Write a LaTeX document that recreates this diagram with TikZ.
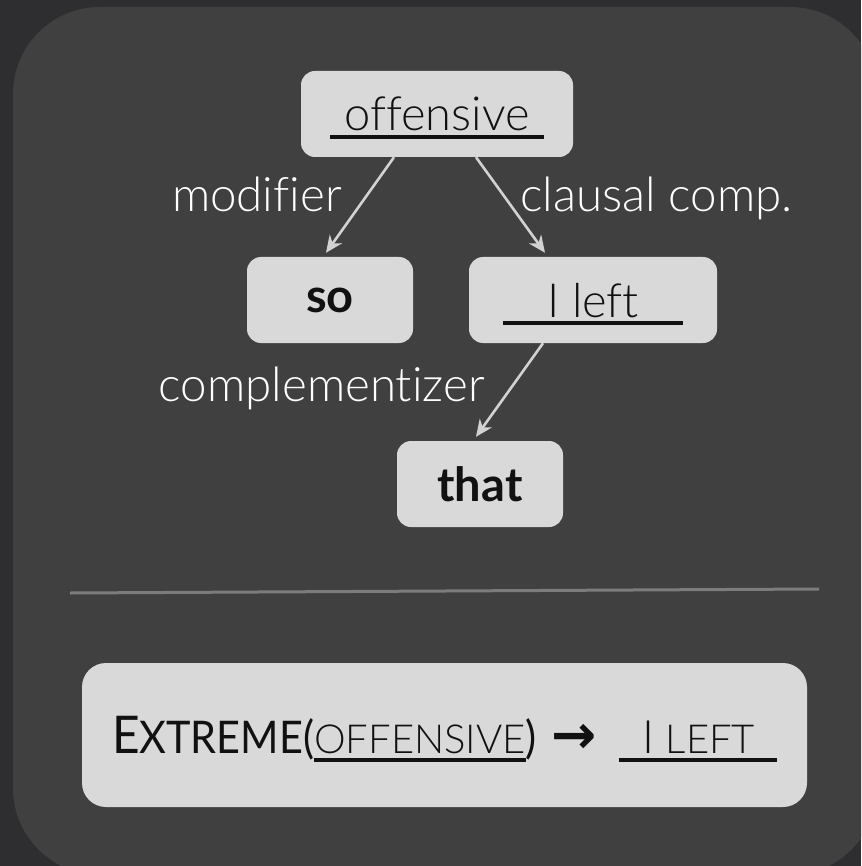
\documentclass[tikz,border=0pt]{standalone}
\usepackage{fontspec}
\setmainfont{Lato}[UprightFont=* Light, BoldFont=* Bold, Ligatures=NoCommon]
\newfontfamily\capsfont{Lato}[FakeStretch=0.92, Ligatures=NoCommon]
\newfontfamily\arrowfont{DejaVu Sans}
\usetikzlibrary{arrows.meta,positioning}
\definecolor{DepBack}{HTML}{2E2E30}
\definecolor{DepPanel}{HTML}{404040}
\definecolor{DepBox}{HTML}{D9D9D9}
\definecolor{DepInk}{HTML}{111111}
\definecolor{DepArc}{HTML}{D2D2D2}
\definecolor{DepRule}{HTML}{7C7C7C}
% underline that runs below a word, padding included
\newcommand{\wordline}[1]{\vtop{\hbox{#1}\kern4pt\hrule height 4pt}}
\tikzset{
  wordbox/.style={rounded corners=14pt, fill=DepBox, text=DepInk, inner sep=0pt,
                  minimum width=166pt, minimum height=86pt,
                  font=\fontsize{47}{52}\selectfont},
  resultbox/.style={rounded corners=24pt, fill=DepBox, text=DepInk, inner sep=0pt,
                  minimum width=725pt, minimum height=144pt, text depth=0pt},
  deparc/.style={-{Stealth[length=17pt,width=15pt]}, line width=2.6pt, draw=DepArc},
  deplabel/.style={text=white, inner sep=0pt, font=\fontsize{47.5}{52}\selectfont},
}

\begin{document}
\begin{tikzpicture}[x=1pt,y=-1pt]
  \clip (0,0) rectangle (861,866);
  \fill[DepBack] (0,0) rectangle (861,866);
  \fill[DepPanel, rounded corners=87pt] (13,7) rectangle (877,875);

  % dependency tree
  \node[wordbox,minimum width=272pt,text depth=0pt] (offensive) at (437,114) {\wordline{\hspace{14pt}offensive\hspace{14pt}}};
  \node[wordbox] (so) at (330,300) {\bfseries so};
  \node[wordbox,minimum width=248pt,text depth=0pt] (ileft) at (593,300) {\wordline{\hspace{44pt}I left\hspace{44pt}}};
  \node[wordbox] (that) at (480,484) {\bfseries that};

  \draw[deparc] ([xshift=-43pt]offensive.south) -- ([xshift=-4pt,yshift=4pt]so.north);
  \draw[deparc] ([xshift=39pt]offensive.south) -- ([xshift=-48pt,yshift=4pt]ileft.north);
  \draw[deparc] ([xshift=-50pt]ileft.south) -- ([xshift=-4pt,yshift=4pt]that.north);

  \node[deplabel,anchor=base east] (modlabel) at (342,212) {modifier};
  \node[deplabel,anchor=base west] (complabel) at (520,212) {clausal comp.};
  \node[deplabel,anchor=base east] (cmplabel) at (485,401) {complementizer};

  % separator
  \coordinate (ruleleft) at (70,593);
  \coordinate (ruleright) at (819,589);
  \draw[DepRule, line width=3pt] (ruleleft) -- (ruleright);

  % resulting relation
  \node[resultbox] (result) at (444.5,735) {%
    {\capsfont\fontsize{52}{60}\selectfont E\fontsize{45}{60}\selectfont XTREME(}%
    \wordline{\fontsize{40}{60}\selectfont OFFENSIVE}%
    {\capsfont\fontsize{45}{60}\selectfont)}\hspace{15pt}%
    {\arrowfont\bfseries\fontsize{54}{60}\selectfont →}\hspace{22pt}%
    \wordline{\hspace{24pt}\fontsize{46}{60}\selectfont I\fontsize{40}{60}\selectfont\ LEFT\hspace{22pt}}};
\end{tikzpicture}
\end{document}
